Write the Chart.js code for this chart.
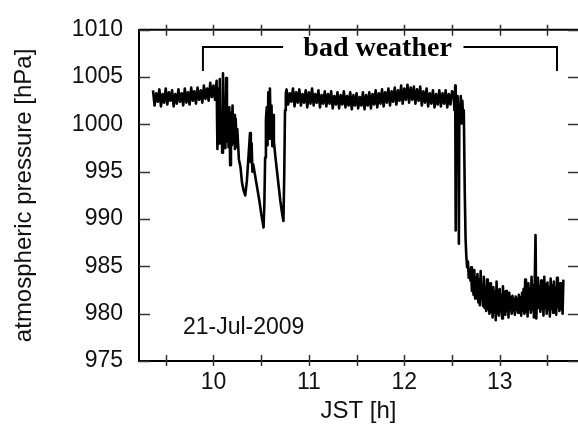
<!DOCTYPE html>
<html>
<head>
<meta charset="utf-8">
<script src="https://cdn.jsdelivr.net/npm/chart.js@4.4.1/dist/chart.umd.min.js"></script>
<style>
  html, body { margin: 0; padding: 0; background: #fff; }
</style>
</head>
<body>
<canvas id="pressureChart" width="578" height="430"></canvas>
<script>
// sample time in minutes after 09:00 JST, pressure in hPa
const calmMinutes = [22,23,24,25,26,27,28,29,30,31,32,33,34,35,36,37,38,39,40,41,
  42,43,44,45,46,47,48,49,50,51,52,53,54,55,56,57,58,59,60,61];
const calmHPa = [1003.6,1002.0,1003.3,1002.4,1003.7,1001.9,1003.2,1002.3,1003.8,1002.1,
  1003.4,1002.5,1003.6,1001.9,1003.2,1002.2,1003.7,1002.4,1003.3,1002.0,
  1003.8,1002.3,1003.4,1002.1,1003.9,1002.5,1003.5,1002.2,1003.9,1002.6,
  1003.6,1002.3,1004.1,1002.7,1003.8,1002.5,1004.4,1002.9,1004.1,1002.6];

const squallMinutes = [62,62.5,63,63.5,64,64.5,65,65.5,66,66.5,67,67.5,68,68.5,69,69.5,70,70.5,71,71.5,
  72,72.5,73,73.5,74,74.5,75,76,77,78,79,80,81,82,83,83.5,84,84.5,85,86,87,88,89,90,91,
  91.5,92,92.5,93,93.5,94,94.5,95,95.5,96,96.5,97,97.5,98,99,100,101,102,103,104,104.5,105,105.5];
const squallHPa = [1004.6,997.4,1003.8,998.0,1004.8,999.5,1001.5,997.0,1005.4,998.5,1002.0,997.5,1004.9,998.2,1001.0,997.6,1001.8,995.7,1001.2,997.8,
  1002.0,998.0,1001.0,997.4,1000.6,997.6,999.5,996.3,995.5,993.8,993.0,992.5,994.0,996.5,999.1,996.0,998.0,995.0,995.8,994.8,993.8,992.8,991.8,990.6,989.6,
  989.1,991.5,996.5,1000.5,1001.8,997.8,1003.4,998.5,1003.8,999.0,1002.0,997.7,1001.0,998.2,996.5,995.0,993.5,992.0,990.8,989.8,994.5,1001.5,1003.3];

const plateauMinutes = [106,107,108,109,110,111,112,113,114,115,116,117,118,119,120,121,122,123,124,125,
  126,127,128,129,130,131,132,133,134,135,136,137,138,139,140,141,142,143,144,145,
  146,147,148,149,150,151,152,153,154,155,156,157,158,159,160,161,162,163,164,165,
  166,167,168,169,170,171,172,173,174,175,176,177,178,179,180,181,182,183,184,185,
  186,187,188,189,190,191,192,193,194,195,196,197,198,199,200,201,202,203,204,205,
  206,207,208,209,210];
const plateauHPa = [1003.7,1002.1,1003.3,1002.4,1003.8,1001.9,1003.4,1002.3,1003.7,1002.0,
  1003.2,1002.3,1003.6,1001.8,1003.4,1002.2,1003.8,1002.0,1003.2,1002.3,
  1003.6,1001.8,1003.1,1002.2,1003.5,1001.9,1003.2,1002.2,1003.5,1001.7,
  1003.0,1002.1,1003.4,1001.7,1003.1,1002.1,1003.5,1001.8,1003.0,1002.0,
  1003.4,1001.6,1003.1,1002.0,1003.3,1001.7,1002.9,1002.0,1003.4,1001.6,
  1003.1,1002.0,1003.4,1001.7,1003.2,1002.1,1003.6,1001.8,1003.3,1002.2,
  1003.7,1001.9,1003.4,1002.3,1003.8,1002.0,1003.5,1002.4,1003.9,1002.1,
  1003.6,1002.5,1004.1,1002.2,1003.8,1002.6,1004.2,1002.3,1003.9,1002.6,
  1004.0,1002.2,1003.7,1002.5,1004.0,1002.0,1003.5,1002.3,1003.8,1001.9,
  1003.3,1002.2,1003.6,1001.8,1003.2,1002.1,1003.6,1001.9,1003.3,1002.2,
  1003.6,1001.8,1003.2,1002.1,1003.5];

const dropMinutes = [211,211.5,212,212.3,212.6,213,213.5,214,214.3,214.6,215,215.5,216,216.5,217,217.4,
  218,218.5,219,219.5,220,220.5,221,221.6];
const dropHPa = [1003.3,1001.5,1004.1,988.8,1002.5,1000.5,1003.0,1000.2,987.4,1001.5,1000.8,1003.0,1000.1,1002.5,1000.5,1001.5,
  993.0,988.0,986.0,984.9,985.5,983.8,984.6,983.5];

const lowMinutes = [222,222.5,223,223.5,224,224.5,225,225.5,226,226.5,227,227.5,228,228.5,229,229.5,230,230.5,231,231.5,
  232,232.5,233,233.5,234,234.5,235,235.5,236,236.5,237,237.5,238,238.5,239,239.5,240,240.5,241,241.5,
  242,242.5,243,243.5,244,244.5,245,245.5,246,246.5,247,247.5,248,248.5,249,249.5,250,250.5,251,251.5,
  252,252.5,253,253.5,254,254.5,255,255.5,256,256.5,257,257.5,258,258.5,259,259.5,260,260.5,261,261.5,
  262,262.5,263,263.5,264,264.5,265,265.5,266,266.5,267,267.5,268,268.5,269,269.5,270,270.5,271,271.5,
  272,272.5,273,273.5,274,274.5,275,275.5,276,276.5,277,277.5,278,278.5,279,279.5,280];
const lowHPa = [984.9,982.4,984.3,982.0,984.6,981.6,983.8,982.2,984.2,981.2,983.6,980.9,984.5,981.5,983.1,980.8,983.9,980.6,982.8,980.3,
  983.6,980.5,982.9,980.0,983.2,980.2,982.5,979.6,982.8,980.1,982.3,979.3,983.4,980.0,982.5,979.8,982.6,980.2,982.0,979.5,
  982.9,980.1,982.3,979.9,982.4,980.3,981.8,979.6,982.2,980.4,981.7,980.0,981.9,980.3,981.5,979.9,981.8,980.4,981.6,980.1,
  982.0,980.2,981.7,979.8,982.2,980.3,982.6,980.0,983.6,980.2,982.9,979.7,983.2,980.5,982.6,980.1,983.9,980.4,983.0,979.6,
  983.4,988.3,979.5,982.7,983.8,980.6,982.9,980.2,983.5,980.5,982.8,979.8,983.9,980.6,983.1,980.0,983.3,980.4,982.7,979.7,
  983.7,980.5,983.0,980.1,983.4,980.6,982.8,979.9,983.8,980.7,983.1,980.3,983.2,980.5,982.9,980.0,983.6];

// axis ticks
const xTickHours = [9.5, 10, 10.5, 11, 11.5, 12, 12.5, 13, 13.5];
const xTickLabels = [10, 11, 12, 13];
const yTickHPa = [975, 980, 985, 990, 995, 1000, 1005, 1010];

// "bad weather" bracket (hours, hPa)
const bracketHours = [9.89, 9.89, 10.73, null, 12.62, 13.60, 13.60];
const bracketHPa = [1005.65, 1008.18, 1008.18, null, 1008.18, 1008.18, 1005.65];

const SANS = '"Liberation Sans", Arial, Helvetica, sans-serif';

function toPoints(mins, vals) {
    return mins.map((m, i) => ({ x: 9 + m / 60, y: vals[i] }));
}

const pressurePoints = [].concat(
    toPoints(calmMinutes, calmHPa),
    toPoints(squallMinutes, squallHPa),
    toPoints(plateauMinutes, plateauHPa),
    toPoints(dropMinutes, dropHPa),
    toPoints(lowMinutes, lowHPa)
);

const bracketPoints = bracketHours.map((h, i) => h === null ? { x: null, y: null } : { x: h, y: bracketHPa[i] });

// gnuplot-like frame: top line plus inward ticks on every side, and the labels
const frameTicks = {
    id: 'frameTicks',
    afterDraw(chart) {
        const { ctx, chartArea: a, scales: { x, y } } = chart;
        ctx.save();
        ctx.strokeStyle = '#000';
        ctx.lineWidth = 2;
        ctx.beginPath();
        ctx.moveTo(a.left, a.top);
        ctx.lineTo(a.right, a.top);
        ctx.stroke();

        ctx.strokeStyle = '#333';
        ctx.lineWidth = 1.5;
        ctx.beginPath();
        xTickHours.forEach(h => {
            const px = Math.round(x.getPixelForValue(h)) + 0.5;
            ctx.moveTo(px, a.bottom - 6); ctx.lineTo(px, a.bottom + 5);
            ctx.moveTo(px, a.top - 5); ctx.lineTo(px, a.top + 6);
        });
        yTickHPa.forEach(v => {
            const py = Math.round(y.getPixelForValue(v)) + 0.5;
            ctx.moveTo(a.left, py); ctx.lineTo(a.left + 11, py);
            ctx.moveTo(a.right - 10, py); ctx.lineTo(a.right, py);
        });
        ctx.stroke();

        ctx.fillStyle = '#000';
        ctx.textBaseline = 'middle';
        ctx.textAlign = 'center';
        ctx.font = 'bold 28px "Liberation Serif", "Times New Roman", serif';
        ctx.fillText('bad weather', x.getPixelForValue(11.72), y.getPixelForValue(1007.95));

        ctx.textAlign = 'left';
        ctx.fillStyle = '#111';
        ctx.font = '23px ' + SANS;
        ctx.fillText('21-Jul-2009', x.getPixelForValue(9.68), y.getPixelForValue(978.5));
        ctx.restore();
    }
};

const ctx = document.getElementById('pressureChart').getContext('2d');

new Chart(ctx, {
    type: 'line',
    data: {
        datasets: [{
            label: 'atmospheric pressure',
            data: pressurePoints,
            borderColor: '#000',
            borderWidth: 2.6,
            borderJoinStyle: 'round',
            pointRadius: 0,
            tension: 0,
            fill: false
        }, {
            label: 'bad weather',
            data: bracketPoints,
            borderColor: '#000',
            borderWidth: 2,
            pointRadius: 0,
            tension: 0,
            spanGaps: false,
            fill: false
        }]
    },
    options: {
        responsive: false,
        animation: false,
        events: [],
        layout: { padding: { top: 15, right: 0, left: 0, bottom: 0 } },
        scales: {
            x: {
                type: 'linear',
                min: 9.22,
                max: 13.82,
                afterBuildTicks: s => { s.ticks = xTickHours.map(v => ({ value: v })); },
                afterFit: s => { s.height = 69; },
                ticks: {
                    autoSkip: false,
                    maxRotation: 0,
                    padding: 8,
                    color: '#111',
                    font: { family: SANS, size: 23 },
                    callback: v => xTickLabels.includes(v) ? String(v) : ''
                },
                grid: { display: false, drawTicks: false },
                border: { display: true, color: '#000', width: 2 },
                title: {
                    display: true,
                    text: 'JST [h]',
                    color: '#111',
                    font: { family: SANS, size: 24 },
                    padding: { top: 0, bottom: 4 }
                }
            },
            y: {
                type: 'linear',
                min: 975,
                max: 1010,
                afterBuildTicks: s => { s.ticks = yTickHPa.map(v => ({ value: v })); },
                afterFit: s => { s.width = 139; },
                ticks: {
                    padding: 16,
                    color: '#111',
                    font: { family: SANS, size: 23 },
                    callback: v => String(v)
                },
                grid: { display: false, drawTicks: false },
                border: { display: true, color: '#000', width: 2 },
                title: {
                    display: true,
                    text: 'atmospheric pressure [hPa]',
                    color: '#111',
                    font: { family: SANS, size: 24 },
                    padding: { top: 10, bottom: 0 }
                }
            }
        },
        plugins: {
            legend: { display: false },
            title: { display: false },
            tooltip: { enabled: false }
        }
    },
    plugins: [frameTicks]
});
</script>
</body>
</html>
